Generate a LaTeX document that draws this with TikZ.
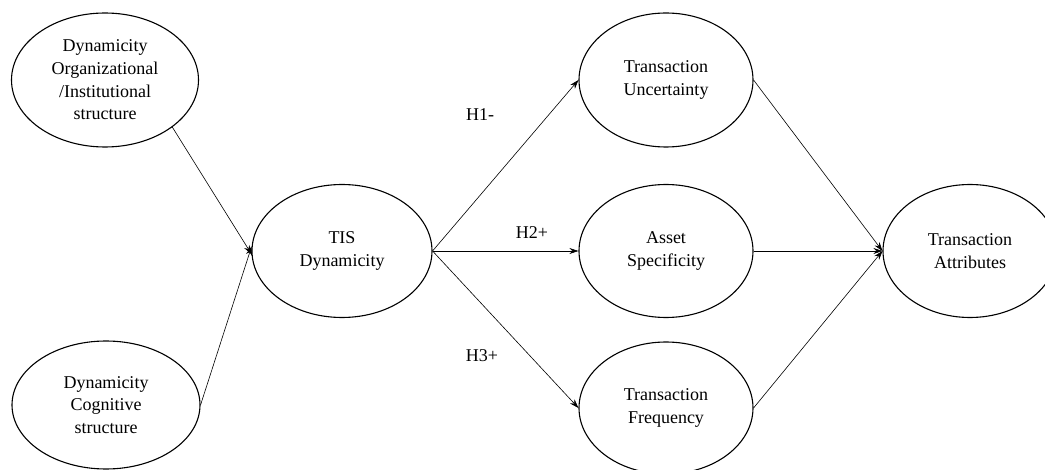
\documentclass[tikz,border=0pt]{standalone}
\usepackage{fontspec}
\setmainfont{Liberation Serif}
\usetikzlibrary{arrows.meta,shapes.geometric}
\begin{document}
\begin{tikzpicture}[x=1pt,y=-1pt,
  ell/.style={draw=black,line width=1.1pt,ellipse,inner sep=0pt,align=center,
    font=\fontsize{18}{22.6}\selectfont},
  conn/.style={draw=black,line width=0.6pt,-{Stealth[length=9pt,width=6pt]}},
  hlab/.style={font=\fontsize{18}{22.6}\selectfont}]
\clip (0,0) rectangle (1045,470);
\useasboundingbox (0,0) rectangle (1045,470);
\node[ell,minimum width=187,minimum height=134] (tl) at (105,80) {Dynamicity\\Organizational\\/Institutional\\structure};
\node[ell,minimum width=188,minimum height=128] (bl) at (106,405) {Dynamicity\\Cognitive\\structure};
\node[ell,minimum width=180,minimum height=133] (tis) at (342,251) {TIS\\Dynamicity};
\node[ell,minimum width=174,minimum height=134] (tu) at (666,80) {Transaction\\Uncertainty};
\node[ell,minimum width=174,minimum height=133] (as) at (666,251) {Asset\\Specificity};
\node[ell,minimum width=174,minimum height=132] (tf) at (666,408) {Transaction\\Frequency};
\node[ell,minimum width=174,minimum height=133] (ta) at (970,251) {Transaction\\Attributes};
\draw[conn] (tl.-35) -- (tis.182);
\draw[conn] (bl.east) -- (tis.177);
\draw[conn] (tis.east) -- (tu.west);
\draw[conn] (tis.east) -- (as.west);
\draw[conn] (tis.east) -- (tf.west);
\draw[conn] (tu.east) -- (ta.west);
\draw[conn] (as.east) -- (ta.west);
\draw[conn] (tf.east) -- (ta.west);
\node[hlab] (h1) at (480,115) {H1-};
\node[hlab] (h2) at (532,233) {H2+};
\node[hlab] (h3) at (482,356) {H3+};
\end{tikzpicture}
\end{document}
